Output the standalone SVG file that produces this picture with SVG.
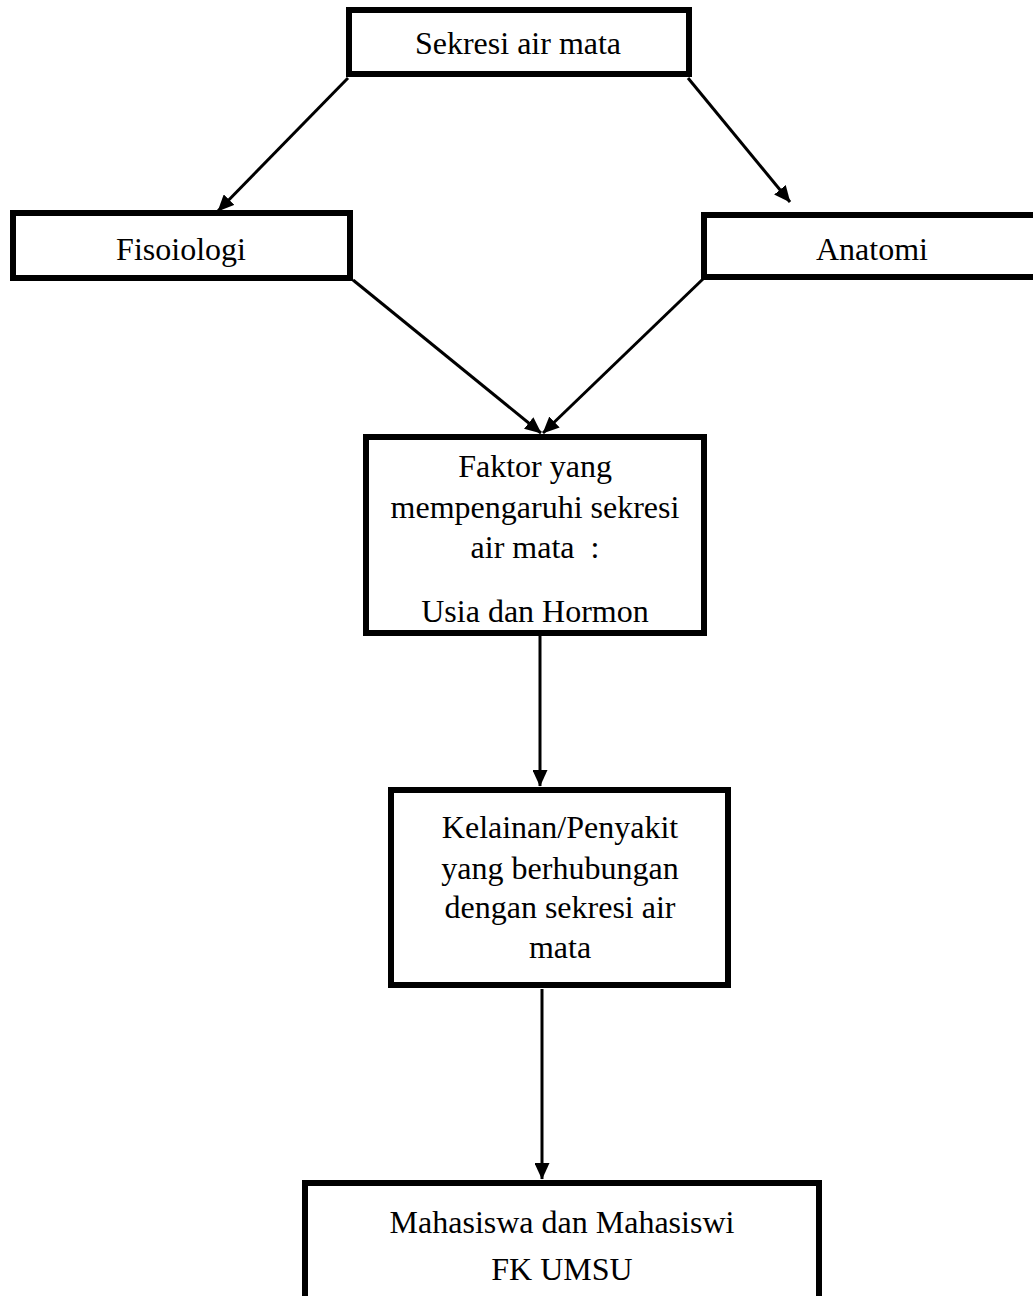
<svg xmlns="http://www.w3.org/2000/svg" width="1033" height="1296" viewBox="0 0 1033 1296">
<style>
.box{fill:#fff;stroke:#000;stroke-width:6}
.t{font-family:"Liberation Serif","Times New Roman",serif;font-size:32px;fill:#000;text-anchor:middle}
.c{stroke:#000;stroke-width:3;fill:none}
</style>
<defs>
<marker id="ah" markerWidth="5.5" markerHeight="5" refX="5.3" refY="2.5" orient="auto" markerUnits="strokeWidth">
<path d="M0,0 L5.5,2.5 L0,5 Z" fill="#000"/>
</marker>
</defs>
<rect width="1033" height="1296" fill="#fff"/>
<g id="connectors">
<line class="c" x1="348" y1="78" x2="218" y2="211" marker-end="url(#ah)"/>
<line class="c" x1="688" y1="78" x2="790" y2="202" marker-end="url(#ah)"/>
<line class="c" x1="353" y1="280" x2="541" y2="433" marker-end="url(#ah)"/>
<line class="c" x1="703" y1="279" x2="543" y2="433" marker-end="url(#ah)"/>
<line class="c" x1="540" y1="636" x2="540" y2="786" marker-end="url(#ah)"/>
<line class="c" x1="542" y1="989" x2="542" y2="1179" marker-end="url(#ah)"/>
</g>
<g id="sekresi">
<rect class="box" x="349" y="10" width="340" height="64"/>
<text class="t" x="518" y="54">Sekresi air mata</text>
</g>
<g id="fisoiologi">
<rect class="box" x="13" y="213" width="337" height="65"/>
<text class="t" x="181" y="260">Fisoiologi</text>
</g>
<g id="anatomi">
<rect class="box" x="704" y="215" width="340" height="62"/>
<text class="t" x="872" y="260">Anatomi</text>
</g>
<g id="faktor">
<rect class="box" x="366" y="437" width="338" height="196"/>
<text class="t" x="535" y="477">Faktor yang</text>
<text class="t" x="535" y="518">mempengaruhi sekresi</text>
<text class="t" x="535" y="558" xml:space="preserve">air mata  :</text>
<text class="t" x="535" y="622">Usia dan Hormon</text>
</g>
<g id="kelainan">
<rect class="box" x="391" y="790" width="337" height="195"/>
<text class="t" x="560" y="838">Kelainan/Penyakit</text>
<text class="t" x="560" y="879">yang berhubungan</text>
<text class="t" x="560" y="918">dengan sekresi air</text>
<text class="t" x="560" y="958">mata</text>
</g>
<g id="mahasiswa">
<rect class="box" x="305" y="1183" width="514" height="130"/>
<text class="t" x="562" y="1233">Mahasiswa dan Mahasiswi</text>
<text class="t" x="562" y="1280">FK UMSU</text>
</g>
</svg>
